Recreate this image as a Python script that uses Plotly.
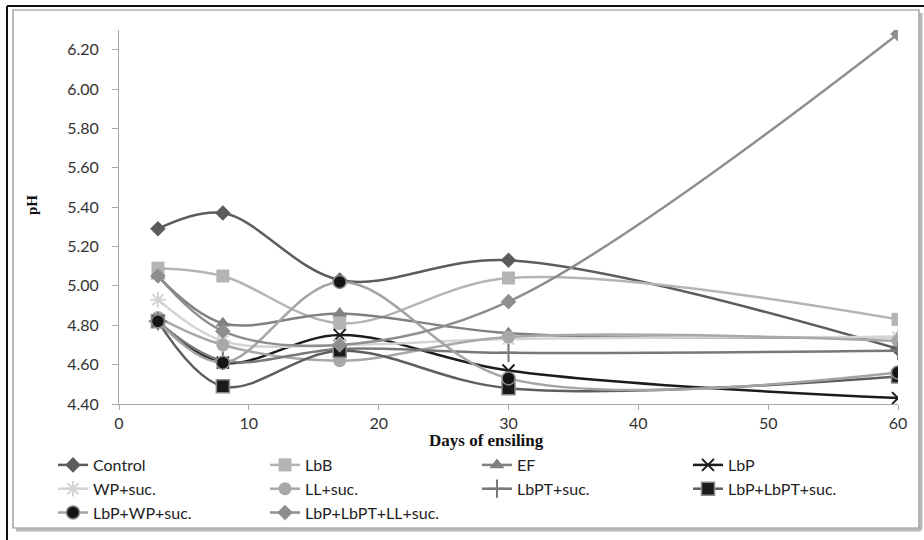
import plotly.graph_objects as go

days = [3, 8, 17, 30, 60]
control = [5.29, 5.37, 5.03, 5.13, 4.68]
lbb = [5.09, 5.05, 4.81, 5.04, 4.83]
ef = [5.05, 4.81, 4.86, 4.76, 4.74]
lbp = [4.82, 4.61, 4.75, 4.57, 4.43]
wp_suc = [4.93, 4.72, 4.70, 4.73, 4.74]
ll_suc = [4.84, 4.70, 4.62, 4.74, 4.72]
lbpt_suc = [4.82, 4.62, 4.68, 4.66, 4.67]
lbp_lbpt_suc = [4.82, 4.49, 4.67, 4.48, 4.54]
lbp_wp_suc = [4.82, 4.61, 5.02, 4.53, 4.56]
lbp_lbpt_ll_suc = [5.05, 4.77, 4.70, 4.92, 6.28]

y_ticks = [4.40, 4.60, 4.80, 5.00, 5.20, 5.40, 5.60, 5.80, 6.00, 6.20]

W, H = 924, 540
ML, MR, MT, MB = 119, 26, 30, 136
PW, PH = W - ML - MR, H - MT - MB


def px(x):
    return (x - ML) / PW


def py(y):
    return (H - MB - y) / PH


# (name, values, line colour, marker, legend column)
series = [
    ("Control", control, "#5c5c5c", dict(symbol="diamond", size=12, color="#5c5c5c"), "legend"),
    ("LbB", lbb, "#b4b4b4", dict(symbol="square", size=13, color="#b4b4b4"), "legend2"),
    ("EF", ef, "#808080", dict(symbol="triangle-up", size=13, color="#808080"), "legend3"),
    ("LbP", lbp, "#1c1c1c", dict(symbol="x-thin-open", size=12, color="#1c1c1c", line=dict(width=2, color="#1c1c1c")), "legend4"),
    ("WP+suc.", wp_suc, "#d4d4d4", dict(symbol="asterisk-open", size=13, color="#d4d4d4", line=dict(width=2, color="#d4d4d4")), "legend"),
    ("LL+suc.", ll_suc, "#a8a8a8", dict(symbol="circle", size=13, color="#a8a8a8"), "legend2"),
    ("LbPT+suc.", lbpt_suc, "#787878", dict(symbol="cross-thin-open", size=13, color="#787878", line=dict(width=2, color="#787878")), "legend3"),
    ("LbP+LbPT+suc.", lbp_lbpt_suc, "#5e5e5e", dict(symbol="square", size=13, color="#1a1a1a", line=dict(width=1.5, color="#8a8a8a")), "legend4"),
    ("LbP+WP+suc.", lbp_wp_suc, "#a4a4a4", dict(symbol="circle", size=13, color="#141414", line=dict(width=1.5, color="#8a8a8a")), "legend"),
    ("LbP+LbPT+LL+suc.", lbp_lbpt_ll_suc, "#8e8e8e", dict(symbol="diamond", size=12, color="#8e8e8e"), "legend2"),
]

fig = go.Figure()
for name, vals, col, mk, lg in series:
    fig.add_trace(go.Scatter(
        x=days, y=vals, name=name, mode="lines+markers",
        line=dict(color=col, width=2.5, shape="spline", smoothing=1.0),
        marker=mk, legend=lg,
    ))

shapes = [
    dict(type="line", xref="paper", yref="paper", x0=px(16), x1=px(921), y0=py(530), y1=py(530),
         line=dict(color="#b8b8b8", width=3)),
    dict(type="line", xref="paper", yref="paper", x0=px(921), x1=px(921), y0=py(13), y1=py(530),
         line=dict(color="#b8b8b8", width=3)),
    dict(type="rect", xref="paper", yref="paper", x0=px(13), x1=px(919), y0=py(10), y1=py(528),
         line=dict(color="#8c8c8c", width=1.2)),
    dict(type="line", xref="paper", yref="paper", x0=px(7), x1=px(924), y0=py(6), y1=py(6),
         line=dict(color="#111111", width=2)),
    dict(type="line", xref="paper", yref="paper", x0=px(7), x1=px(7), y0=py(6), y1=py(540),
         line=dict(color="#111111", width=2)),
]

annotations = [
    dict(text="<b>Days of ensiling</b>", xref="paper", yref="paper", x=px(486), y=py(440),
         showarrow=False, xanchor="center", yanchor="middle",
         font=dict(family="Liberation Serif", size=17, color="#111111")),
    dict(text="<b>pH</b>", xref="paper", yref="paper", x=px(32), y=py(205),
         showarrow=False, xanchor="center", yanchor="middle", textangle=-90,
         font=dict(family="Liberation Serif", size=15, color="#111111")),
]

leg_font = dict(family="Lato", size=16, color="#222222")
leg_common = dict(orientation="v", xanchor="left", yanchor="top", font=leg_font,
                  bgcolor="rgba(0,0,0,0)", tracegroupgap=0)
col_x = [53, 265, 477, 688]
leg_top = 448

fig.update_layout(
    width=W, height=H,
    margin=dict(l=ML, r=MR, t=MT, b=MB, autoexpand=False),
    paper_bgcolor="white", plot_bgcolor="white",
    font=dict(family="Lato", size=16, color="#222222"),
    shapes=shapes, annotations=annotations,
    legend=dict(x=px(col_x[0]), y=py(leg_top), **leg_common),
    legend2=dict(x=px(col_x[1]), y=py(leg_top), **leg_common),
    legend3=dict(x=px(col_x[2]), y=py(leg_top), **leg_common),
    legend4=dict(x=px(col_x[3]), y=py(leg_top), **leg_common),
    showlegend=True,
)

fig.update_xaxes(range=[0, 60], dtick=10, tick0=0, showgrid=False, zeroline=False,
                 showline=True, linecolor="#a8a8a8", linewidth=1,
                 ticks="outside", ticklen=5, tickcolor="#a8a8a8",
                 tickfont=dict(family="Lato", size=16, color="#333333"),
                 ticklabelstandoff=0)
fig.update_yaxes(range=[4.40, 6.30], tickvals=y_ticks, ticktext=[f"{v:.2f}" for v in y_ticks],
                 showgrid=False, zeroline=False,
                 showline=True, linecolor="#a8a8a8", linewidth=1,
                 ticks="outside", ticklen=6, tickcolor="#a8a8a8",
                 tickfont=dict(family="Lato", size=16, color="#333333"),
                 ticklabelstandoff=10)

fig.write_html("out.html", config={"displayModeBar": False},
               post_script="document.body.style.margin='0px';")
